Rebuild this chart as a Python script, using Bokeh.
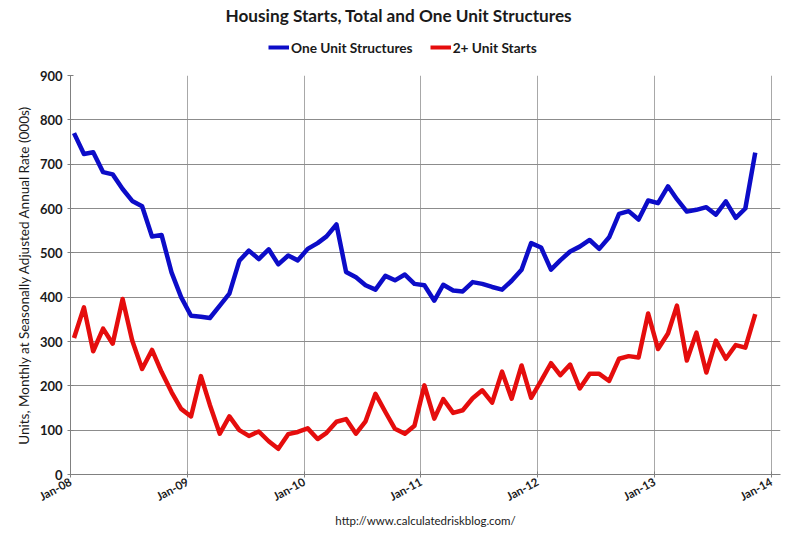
import pandas as pd
from bokeh.plotting import figure
from bokeh.layouts import column
from bokeh.models import Range1d, FixedTicker, DatetimeTickFormatter, Legend, LegendItem, Title
from bokeh.embed import file_html
from bokeh.resources import INLINE

# housing starts, SAAR, thousands (Jan-08 .. Nov-13)
one_unit = [770, 723, 727, 682, 677, 644, 617, 605, 537, 540, 456, 400,
            358, 356, 353, 381, 408, 482, 505, 486, 508, 474, 494, 483,
            509, 522, 537, 564, 457, 445, 427, 417, 448, 438, 451, 430,
            427, 392, 428, 415, 413, 434, 430, 423, 417, 437, 462, 522,
            512, 462, 483, 503, 514, 529, 509, 535, 588, 594, 575, 618,
            612, 650, 621, 593, 597, 603, 586, 616, 579, 600, 726]
two_plus = [308, 377, 278, 329, 295, 396, 302, 238, 281, 231, 186, 148,
            131, 222, 157, 92, 131, 100, 87, 97, 75, 58, 91, 96,
            104, 80, 94, 119, 125, 92, 120, 182, 141, 103, 92, 110,
            201, 126, 170, 139, 145, 172, 190, 162, 232, 171, 246, 173,
            211, 251, 224, 248, 194, 227, 227, 211, 261, 267, 264, 363,
            283, 318, 381, 257, 320, 230, 302, 261, 292, 286, 362]
series = [("One Unit Structures", one_unit, "#0c0cc8"),
          ("2+ Unit Starts", two_plus, "#e50d0d")]

months = pd.date_range("2008-01-01", periods=len(one_unit), freq="MS") + pd.Timedelta(days=11)
year_ticks = pd.date_range("2008-01-01", "2014-01-01", freq="YS")
y_ticks = list(range(0, 1000, 100))

FONT = "Lato"
TXT = "#1a1a1a"

# header: title + legend (a legend in a side panel misbehaves, so it lives here)
head = figure(width=784, height=62, x_range=Range1d(0, 1), y_range=Range1d(0, 1),
              x_axis_location=None, y_axis_location=None,
              output_backend="svg", toolbar_location=None,
              min_border=0, min_border_top=3, border_fill_color="white")
head.outline_line_color = None
head.grid.visible = False
head.title.text = "Housing Starts, Total and One Unit Structures"
head.title.align = "left"
head.title.offset = 155
head.title.text_font = FONT
head.title.text_font_size = "17.2px"
head.title.text_font_style = "bold"
head.title.text_color = TXT
head.title.standoff = 4

# same series, off the header's ranges: only their legend swatches show
swatches = [head.line(months, vals, line_color=c, line_width=4) for _, vals, c in series]
legend = Legend(items=[LegendItem(label=n, renderers=[r]) for (n, _, _), r in zip(series, swatches)],
                orientation="horizontal", location=(198, 5),
                border_line_color=None, background_fill_alpha=0,
                label_text_font=FONT, label_text_font_size="13.7px",
                label_text_font_style="bold", label_text_color=TXT,
                glyph_width=21, label_standoff=2, spacing=17, padding=0, margin=0)
head.add_layout(legend)

p = figure(width=784, height=465, x_axis_type="datetime",
           x_range=Range1d(pd.Timestamp("2008-01-01"), pd.Timestamp("2014-01-30")),
           y_range=Range1d(0, 900),
           output_backend="svg", toolbar_location=None,
           min_border_left=70, min_border_right=4, min_border_top=13, min_border_bottom=53,
           background_fill_color="white", border_fill_color="white")
p.outline_line_color = None

for name, vals, c in series:
    p.line(months, vals, line_color=c, line_width=4.5, line_join="round")

p.xaxis.ticker = FixedTicker(ticks=[t.timestamp() * 1000 for t in year_ticks])
p.xaxis.formatter = DatetimeTickFormatter(days="%b-%y", months="%b-%y", years="%b-%y")
p.xaxis.major_label_orientation = 0.5
p.xaxis.major_label_standoff = 3
p.xaxis.major_label_text_font = FONT
p.xaxis.major_label_text_font_size = "11.5px"
p.xaxis.major_label_text_font_style = "bold"
p.xaxis.major_label_text_color = TXT

p.yaxis.ticker = FixedTicker(ticks=y_ticks)
p.yaxis.major_label_text_font = FONT
p.yaxis.major_label_text_font_size = "13px"
p.yaxis.major_label_text_font_style = "bold"
p.yaxis.major_label_text_color = TXT
p.yaxis.axis_label = "Units, Monthly at Seasonally Adjusted Annual Rate (000s)"
p.yaxis.axis_label_text_font = FONT
p.yaxis.axis_label_text_font_size = "13.5px"
p.yaxis.axis_label_text_font_style = "normal"
p.yaxis.axis_label_text_color = TXT

for ax in (p.xaxis, p.yaxis):
    ax.axis_line_color = "#808080"
    ax.major_tick_line_color = "#808080"
    ax.major_tick_in = 3
    ax.major_tick_out = 3
    ax.minor_tick_line_color = None

p.grid.grid_line_color = "#8c8c8c"
p.grid.grid_line_width = 1
p.xgrid.grid_line_color = "#a8a8a8"

footer = Title(text="http://www.calculatedriskblog.com/", align="center",
               text_font=FONT, text_font_size="11.5px", text_font_style="normal",
               text_color=TXT, standoff=0)
p.add_layout(footer, "below")

page = column(head, p, spacing=0)
open("out.html", "w").write(file_html(page, INLINE))
